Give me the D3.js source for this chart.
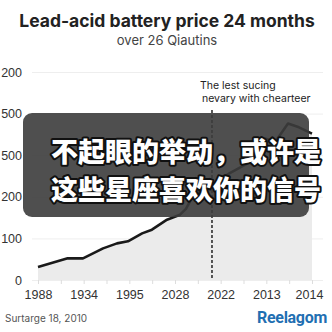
<!DOCTYPE html>
<html>
<head>
<meta charset="utf-8">
<script src="https://cdn.jsdelivr.net/npm/d3@7"></script>
<style>
  body { margin: 0; background: #fff; }
  svg { display: block; font-family: "Inter", "Roboto", sans-serif; }
</style>
</head>
<body>
<svg id="chart" width="332" height="332"></svg>
<script>
// data
var xTickLabels = ["1988", "1934", "1995", "2028", "2022", "2013", "2014"];
var yTickValues = [0, 100, 200, 300, 400, 500];
var yTickLabels = ["0", "100", "200", "500", "500", "200"];
var pointX = [0, 1.3, 1.97, 2.85, 3.46, 3.94, 4.56, 4.99, 5.65, 6.22, 6.48, 6.79, 7.5, 8.4, 9.5, 9.94, 10.4, 10.95, 11.43, 12];
var pointVal = [31, 52, 52, 76, 88, 93, 112, 121, 145, 157, 171, 202, 226, 257, 290, 340, 333, 376, 367, 352];
var markerX = [7.62];
var noteLines = ["The lest sucing", "nevary with chearteer"];
var overlayLines = ["不起眼的举动，或许是", "这些星座喜欢你的信号"];

var svg = d3.select("#chart"),
	margin = {top: 72, right: 20, bottom: 52, left: 38},
	width = 332 - margin.left - margin.right,
	height = 332 - margin.top - margin.bottom;

var x = d3.scaleLinear().domain([0, 12]).range([margin.left, margin.left + width]);
var y = d3.scaleLinear().domain([0, 500]).range([margin.top + height, margin.top]);

var data = pointX.map(function(d, i) { return {x: d, v: pointVal[i]}; });

// title
svg.append("text")
	.attr("x", 167).attr("y", 27)
	.attr("text-anchor", "middle")
	.style("font-size", "17.5px").style("font-weight", "700").style("fill", "#222")
	.text("Lead-acid battery price 24 months");
svg.append("text")
	.attr("x", 167).attr("y", 45)
	.attr("text-anchor", "middle")
	.style("font-size", "13px").style("fill", "#444")
	.text("over 26 Qiautins");

// grid + y labels
var yAxis = svg.append("g")
	.attr("transform", "translate(32,0)")
	.call(d3.axisRight(y).tickValues(yTickValues).tickSize(291)
		.tickFormat(function(d, i) { return yTickLabels[i]; }));
yAxis.select(".domain").remove();
yAxis.selectAll("line").attr("stroke", "#eeeeee");
yAxis.selectAll("text")
	.attr("x", -10).attr("text-anchor", "end")
	.style("font-size", "12.5px").style("fill", "#333");

// area + line
svg.append("path")
	.datum(data)
	.attr("fill", "#ebebeb")
	.attr("d", d3.area().x(function(d) { return x(d.x); }).y0(y(0)).y1(function(d) { return y(d.v); }));

svg.append("path")
	.datum(data)
	.attr("fill", "none")
	.attr("stroke", "#1a1a1a")
	.attr("stroke-width", 2.6)
	.attr("stroke-linejoin", "round")
	.attr("d", d3.line().x(function(d) { return x(d.x); }).y(function(d) { return y(d.v); }));

// x axis
var xAxis = svg.append("g")
	.attr("transform", "translate(0," + y(0) + ")")
	.call(d3.axisBottom(x).ticks(12).tickSize(4).tickPadding(6)
		.tickFormat(function(d) { return d % 2 === 0 ? xTickLabels[d / 2] : ""; }));
xAxis.select(".domain").remove();
xAxis.selectAll("line").attr("stroke", "#ddd");
xAxis.selectAll("text").style("font-size", "12.5px").style("fill", "#333")
	.attr("dx", function(d) { return d === 12 ? -3 : 0; });

// marker
svg.selectAll(".marker")
	.data(markerX)
  .enter().append("line")
	.attr("class", "marker")
	.attr("x1", function(d) { return x(d); }).attr("x2", function(d) { return x(d); })
	.attr("y1", 110).attr("y2", y(0))
	.attr("stroke", "#222").attr("stroke-width", 1.5)
	.attr("stroke-dasharray", "3,2");

svg.selectAll(".note")
	.data(noteLines)
  .enter().append("text")
	.attr("class", "note")
	.attr("x", function(d, i) { return 200 + i * 2; })
	.attr("y", function(d, i) { return 89 + i * 12.5; })
	.style("font-size", "10.5px").style("fill", "#222")
	.text(function(d) { return d; });

// overlay caption
svg.append("rect")
	.attr("x", 23).attr("y", 113).attr("width", 286).attr("height", 104)
	.attr("rx", 9)
	.attr("fill", "#3c3c3c").attr("fill-opacity", 0.9);

svg.selectAll(".cap")
	.data(overlayLines)
  .enter().append("text")
	.attr("class", "cap")
	.attr("x", 51)
	.attr("y", function(d, i) { return 162 + i * 38; })
	.style("font-family", "'Noto Sans CJK SC', sans-serif")
	.style("font-size", "27px").style("font-weight", "900")
	.style("fill", "#fff")
	.style("stroke", "#111").style("stroke-width", "4px")
	.style("paint-order", "stroke")
	.style("stroke-linejoin", "round")
	.text(function(d) { return d; });

// footer
svg.append("text")
	.attr("x", 5).attr("y", 322)
	.style("font-size", "10px").style("fill", "#555")
	.text("Surtarge 18, 2010");
svg.append("text")
	.attr("x", 327).attr("y", 323)
	.attr("text-anchor", "end")
	.style("font-family", "'Roboto', sans-serif")
	.style("font-size", "16px").style("font-weight", "700").style("fill", "#1f6fb2")
	.style("letter-spacing", "-0.3px")
	.text("Reelagom");
</script>
</body>
</html>
